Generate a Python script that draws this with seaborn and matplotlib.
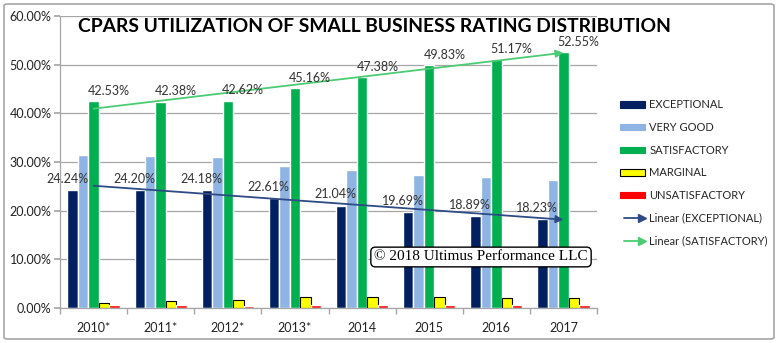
import numpy as np
import pandas as pd
import matplotlib
matplotlib.use("Agg")
import matplotlib.pyplot as plt
import seaborn as sns
from matplotlib.patches import Patch, FancyBboxPatch
from matplotlib.lines import Line2D
from matplotlib.legend_handler import HandlerLine2D
from matplotlib.ticker import FixedLocator, FuncFormatter

# ---------------- data ----------------
years = ["2010*", "2011*", "2012*", "2013*", "2014", "2015", "2016", "2017"]
exceptional = [24.24, 24.20, 24.18, 22.61, 21.04, 19.69, 18.89, 18.23]
very_good = [31.4, 31.3, 31.0, 29.2, 28.3, 27.4, 27.0, 26.3]
satisfactory = [42.53, 42.38, 42.62, 45.16, 47.38, 49.83, 51.17, 52.55]
marginal = [1.1, 1.4, 1.6, 2.2, 2.3, 2.2, 2.1, 2.0]
unsatisfactory = [0.55, 0.55, 0.5, 0.7, 0.7, 0.7, 0.6, 0.6]
series_names = ["EXCEPTIONAL", "VERY GOOD", "SATISFACTORY", "MARGINAL", "UNSATISFACTORY"]
title = "CPARS UTILIZATION OF SMALL BUSINESS RATING DISTRIBUTION"
copyright_text = "\u00a9 2018 Ultimus Performance LLC"

colors = ["#002060", "#8EB4E3", "#00B050", "#FFFF00", "#FF0000"]
trend_colors = {"EXCEPTIONAL": "#2F4B85", "SATISFACTORY": "#4CCB72"}

rows = []
for name, vals in zip(series_names, [exceptional, very_good, satisfactory, marginal, unsatisfactory]):
    for y, v in zip(years, vals):
        rows.append({"Year": y, "Rating": name, "Value": v})
df = pd.DataFrame(rows)

# ---------------- figure ----------------
sns.set_theme(style="white")
plt.rcParams["font.family"] = ["Lato", "DejaVu Sans"]

W, H = 778, 343
fig = plt.figure(figsize=(W / 100, H / 100), dpi=100)
ax = fig.add_axes([60 / W, 1 - 308 / H, (597 - 60) / W, (308 - 16) / H])

sns.barplot(data=df, x="Year", y="Value", hue="Rating", order=years,
            hue_order=series_names, palette=colors, width=0.78, gap=0,
            saturation=1, legend=False, ax=ax, errorbar=None)

# marginal bars: black edge
for p in ax.containers[3]:
    p.set_edgecolor("black")
    p.set_linewidth(0.8)

ax.set_ylim(0, 60)
ax.set_xlim(-0.5, len(years) - 0.5)
ax.yaxis.set_major_locator(FixedLocator(np.arange(0, 61, 10)))
ax.yaxis.set_major_formatter(FuncFormatter(lambda v, _: f"{v:.2f}%"))
ax.grid(axis="y", color="#A6A6A6", linewidth=0.9)
ax.set_axisbelow(True)
ax.set_xlabel("")
ax.set_ylabel("")
for s in ["top", "right"]:
    ax.spines[s].set_visible(False)
for s in ["left", "bottom"]:
    ax.spines[s].set_color("#A6A6A6")
    ax.spines[s].set_linewidth(0.9)

ax.tick_params(axis="y", which="major", left=True, length=4, color="#A6A6A6",
               labelsize=9, labelcolor="#222222", pad=2)
ax.tick_params(axis="x", which="major", length=0, labelsize=9, labelcolor="#222222", pad=10)
ax.xaxis.set_minor_locator(FixedLocator(np.arange(-0.5, len(years), 1.0)))
ax.tick_params(axis="x", which="minor", bottom=True, length=4, color="#A6A6A6")

# ---------------- trend lines ----------------
xs = np.arange(len(years))
for name, vals in [("EXCEPTIONAL", exceptional), ("SATISFACTORY", satisfactory)]:
    k, b = np.polyfit(xs, vals, 1)
    ax.annotate("", xy=(xs[-1], k * xs[-1] + b), xytext=(xs[0], k * xs[0] + b),
                arrowprops=dict(arrowstyle="-|>", color=trend_colors[name], lw=1.3,
                                mutation_scale=11, shrinkA=0, shrinkB=0), zorder=5)

# ---------------- data labels ----------------
for p, v in zip(ax.containers[0], exceptional):
    ax.annotate(f"{v:.2f}%", (p.get_x() + p.get_width() / 2, v), xytext=(-4, 8),
                textcoords="offset points", ha="center", va="center",
                fontsize=9, color="#333333", zorder=6)
for p, v in zip(ax.containers[2], satisfactory):
    ax.annotate(f"{v:.2f}%", (p.get_x() + p.get_width() / 2, v), xytext=(11, 7.5),
                textcoords="offset points", ha="center", va="center",
                fontsize=9, color="#333333", zorder=6)

# ---------------- title ----------------
fig.text(374 / W, 1 - 27 / H, title, ha="center", va="center", fontsize=13.9,
         fontweight="bold", color="black")

# ---------------- copyright ----------------
fig.text(481 / W, 1 - 257 / H, copyright_text, ha="center", va="center",
         fontsize=11, family=["Liberation Serif", "DejaVu Serif"], color="black",
         bbox=dict(boxstyle="round,pad=0.22,rounding_size=0.3", facecolor="white",
                   edgecolor="black", linewidth=1.0), zorder=10)

# ---------------- legend ----------------
class ArrowHandler(HandlerLine2D):
    def create_artists(self, legend, orig_handle, xdescent, ydescent, width, height,
                       fontsize, trans):
        arts = super().create_artists(legend, orig_handle, xdescent, ydescent, width,
                                      height, fontsize, trans)
        for a in arts:
            xd = a.get_xdata()
            a.set_markevery([len(xd) - 1])
        return arts

handles = []
for name, c in zip(series_names, colors):
    ec = "black" if name == "MARGINAL" else c
    handles.append(Patch(facecolor=c, edgecolor=ec, linewidth=0.8))
tr_handles = [Line2D([0], [0], color=trend_colors[n], lw=1.3, marker=">", markersize=6,
                     markerfacecolor=trend_colors[n], markeredgecolor=trend_colors[n])
              for n in ["EXCEPTIONAL", "SATISFACTORY"]]
labels = series_names + ["Linear (EXCEPTIONAL)", "Linear (SATISFACTORY)"]
hmap = {h: ArrowHandler(numpoints=2) for h in tr_handles}
fig.legend(handles + tr_handles, labels, loc="upper left",
           bbox_to_anchor=(616 / W, 1 - 95 / H), frameon=False, fontsize=8,
           handlelength=2.2, handleheight=0.5, labelspacing=1.05, handletextpad=0.4,
           borderaxespad=0, handler_map=hmap)

# ---------------- chart border ----------------
border = FancyBboxPatch((4 / W, 4 / H), (W - 8) / W, (H - 8) / H,
                        boxstyle="round,pad=0,rounding_size=0.005", transform=fig.transFigure,
                        facecolor="none", edgecolor="#A6A6A6", linewidth=1.2)
fig.patches.append(border)

fig.savefig("out.png", dpi=100)
